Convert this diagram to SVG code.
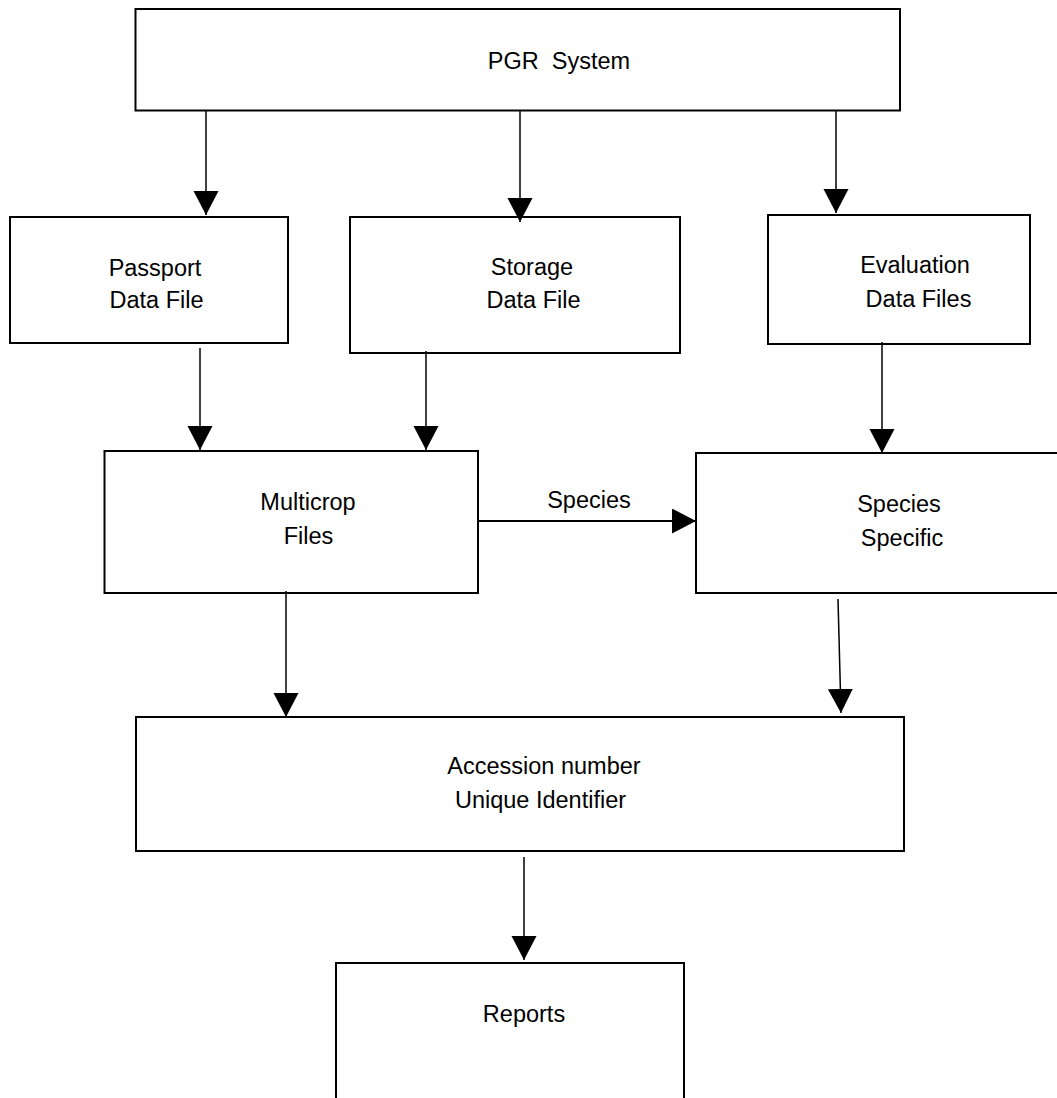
<svg xmlns="http://www.w3.org/2000/svg" width="1057" height="1098" viewBox="0 0 1057 1098">
<style>
.box{fill:none;stroke:#000;stroke-width:2}
.edge{fill:none;stroke:#000;stroke-width:1.5}
text{font-family:"Liberation Sans",Arial,sans-serif;font-size:23.5px;fill:#000;text-anchor:middle}
</style>
<defs>
<marker id="ah" markerUnits="userSpaceOnUse" markerWidth="26" markerHeight="26" refX="24" refY="12.5" orient="auto" viewBox="0 0 26 26">
<path d="M0,0 L24,12.5 L0,25 z" fill="#000"/>
</marker>
</defs>
<rect width="1057" height="1098" fill="#fff"/>
<g id="connectors">
<line class="edge" x1="206" y1="111" x2="206" y2="215" marker-end="url(#ah)"/>
<line class="edge" x1="520" y1="111" x2="520" y2="222" marker-end="url(#ah)"/>
<line class="edge" x1="836" y1="111" x2="836" y2="213" marker-end="url(#ah)"/>
<line class="edge" x1="200" y1="348" x2="200" y2="450" marker-end="url(#ah)"/>
<line class="edge" x1="426" y1="351" x2="426" y2="450" marker-end="url(#ah)"/>
<line class="edge" x1="882" y1="342" x2="882" y2="453" marker-end="url(#ah)"/>
<line class="edge" style="stroke-width:2" x1="478" y1="521" x2="696" y2="521" marker-end="url(#ah)"/>
<text x="589" y="508">Species</text>
<line class="edge" x1="286" y1="591" x2="286" y2="717" marker-end="url(#ah)"/>
<line class="edge" x1="838" y1="599" x2="841" y2="713" marker-end="url(#ah)"/>
<line class="edge" x1="524" y1="857" x2="524" y2="960" marker-end="url(#ah)"/>
</g>
<g id="pgr">
<rect class="box" x="135.5" y="9" width="764.5" height="101.5"/>
<text x="559" y="69" xml:space="preserve">PGR  System</text>
</g>
<g id="passport">
<rect class="box" x="10" y="217" width="278" height="126"/>
<text x="155" y="276">Passport</text>
<text x="156.5" y="308">Data File</text>
</g>
<g id="storage">
<rect class="box" x="350" y="217" width="330" height="136"/>
<text x="532" y="275">Storage</text>
<text x="533.5" y="308">Data File</text>
</g>
<g id="evaluation">
<rect class="box" x="768" y="215" width="262" height="129"/>
<text x="915" y="273">Evaluation</text>
<text x="918.5" y="307">Data Files</text>
</g>
<g id="multicrop">
<rect class="box" x="104.5" y="451" width="373.5" height="142"/>
<text x="308" y="510">Multicrop</text>
<text x="308.5" y="544">Files</text>
</g>
<g id="species">
<rect class="box" x="696" y="453" width="380" height="140"/>
<text x="899" y="512">Species</text>
<text x="902" y="546">Specific</text>
</g>
<g id="accession">
<rect class="box" x="136" y="717" width="768" height="134"/>
<text x="544" y="774">Accession number</text>
<text x="540.5" y="808">Unique Identifier</text>
</g>
<g id="reports">
<rect class="box" x="336" y="963" width="348" height="160"/>
<text x="524" y="1022">Reports</text>
</g>
</svg>
